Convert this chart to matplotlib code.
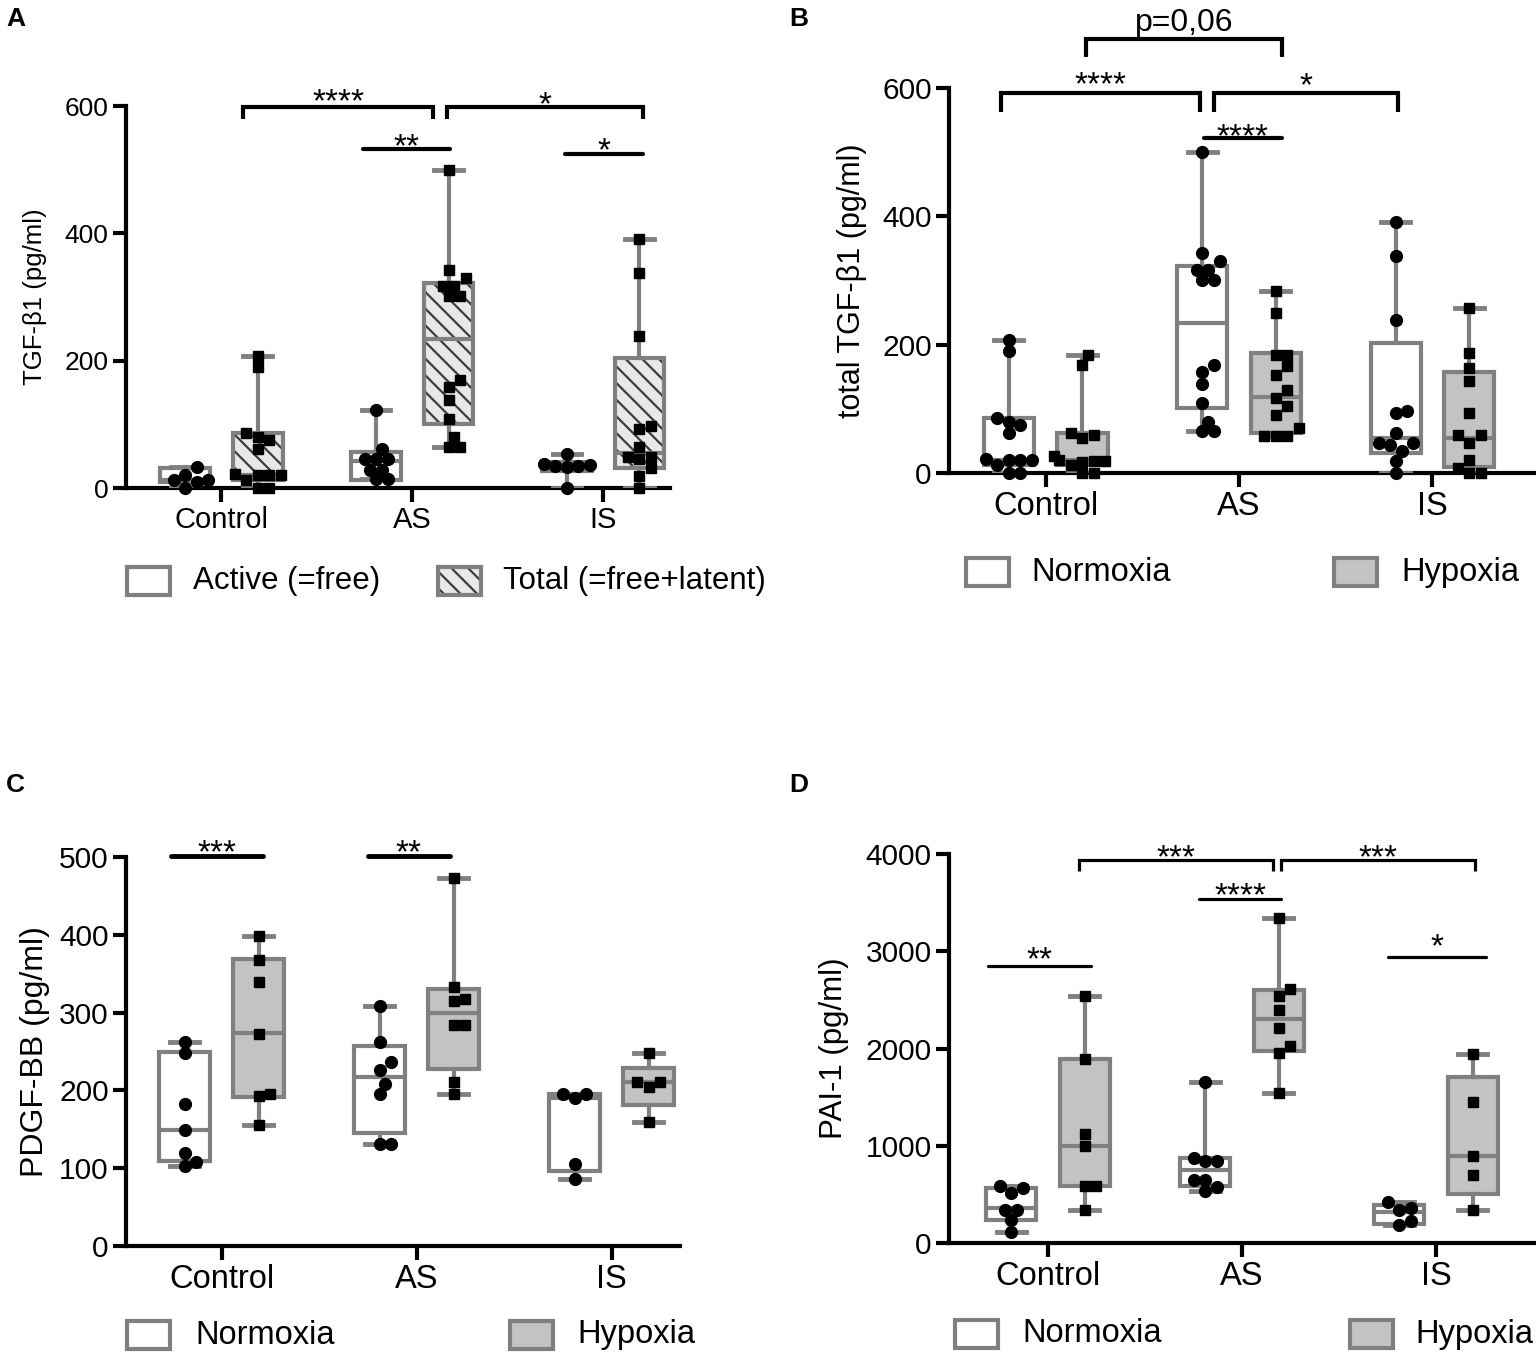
import numpy as np
import matplotlib
matplotlib.use('Agg')
import matplotlib.pyplot as plt
from matplotlib.patches import Rectangle, PathPatch

plt.rcParams['font.family'] = ['Liberation Sans', 'DejaVu Sans']
plt.rcParams['hatch.linewidth'] = 1.6

W, H = 1536, 1356
GRAY = '#808080'
HYP = '#c3c3c3'
HATCHFACE = '#e8e8e8'
HATCHLINE = '#3c3c3c'

categories = ['Control', 'AS', 'IS']

# ---------------- Panel A : TGF-beta1 active vs total ----------------
A_active_pts = [[0, 9, 13, 13, 20, 33],
                [14, 14, 28, 28, 45, 45, 45, 61, 123],
                [0, 33, 34, 35, 36, 38, 54]]
A_active_q1 = [9, 12, 27]
A_active_med = [13, 43, 35]
A_active_q3 = [31, 57, 41]

A_total_pts = [[0, 0, 13, 21, 21, 21, 22, 62, 75, 80, 86, 190, 207],
               [65, 65, 80, 109, 138, 158, 169, 301, 301, 317, 317, 330, 343, 500],
               [0, 19, 32, 46, 49, 49, 64, 93, 98, 239, 337, 391]]
A_total_q1 = [13, 101, 32]
A_total_med = [21, 234, 55]
A_total_q3 = [86, 322, 204]

# ---------------- Panel B : total TGF-beta1 normoxia vs hypoxia ----------------
B_norm_pts = [[0, 0, 13, 21, 21, 21, 22, 62, 75, 80, 86, 190, 207],
              [65, 65, 80, 109, 138, 158, 169, 301, 301, 317, 317, 330, 343, 500],
              [0, 18, 34, 44, 47, 47, 62, 94, 96, 238, 338, 391]]
B_norm_q1 = [13, 101, 31]
B_norm_med = [21, 234, 55]
B_norm_q3 = [86, 322, 203]

B_hyp_pts = [[0, 0, 13, 17, 18, 18, 20, 26, 55, 60, 62, 169, 184],
             [57, 57, 57, 70, 91, 104, 117, 130, 153, 166, 184, 184, 249, 283],
             [0, 0, 8, 21, 47, 60, 60, 94, 143, 164, 187, 257]]
B_hyp_q1 = [13, 62, 10]
B_hyp_med = [20, 119, 55]
B_hyp_q3 = [62, 187, 158]

# ---------------- Panel C : PDGF-BB ----------------
C_norm_pts = [[103, 108, 119, 149, 182, 248, 262],
              [131, 131, 195, 208, 226, 237, 262, 309],
              [86, 106, 190, 195, 195]]
C_norm_q1 = [109, 145, 97]
C_norm_med = [149, 217, 190]
C_norm_q3 = [250, 257, 196]

C_hyp_pts = [[155, 193, 196, 273, 339, 368, 398],
             [195, 211, 284, 284, 315, 318, 333, 473],
             [160, 205, 211, 211, 248]]
C_hyp_q1 = [192, 228, 181]
C_hyp_med = [274, 299, 211]
C_hyp_q3 = [369, 330, 229]

# ---------------- Panel D : PAI-1 ----------------
D_norm_pts = [[109, 239, 342, 342, 513, 564, 581],
              [530, 574, 650, 650, 848, 848, 872, 1658],
              [188, 222, 342, 359, 420]]
D_norm_q1 = [232, 588, 200]
D_norm_med = [359, 752, 315]
D_norm_q3 = [564, 879, 393]

D_hyp_pts = [[335, 588, 588, 998, 1121, 1887, 2537],
             [1539, 1956, 2024, 2215, 2400, 2540, 2616, 3344],
             [335, 701, 896, 1453, 1942]]
D_hyp_q1 = [588, 1976, 506]
D_hyp_med = [998, 2308, 896]
D_hyp_q3 = [1887, 2598, 1710]

# significance annotations: (x1, x2, line_y, drop, label_center_y, label)
A_sig = [(0.115, 1.11, 598, 18, 622, '****'), (1.18, 2.21, 598, 18, 617, '*'),
         (0.74, 1.20, 532, 0, 551, '**'), (1.80, 2.21, 525, 0, 545, '*')]
B_sig = [(-0.23, 0.80, 592, 29, 620, '****'), (0.87, 1.82, 592, 29, 619, '*'),
         (0.82, 1.22, 522, 0, 539, '****')]
B_p = (0.21, 1.22, 676, 28, 689, 'p=0,06')
C_sig = [(-0.26, 0.21, 501, 0, 518, '***'), (0.75, 1.17, 501, 0, 518, '**')]
D_sig = [(-0.31, 0.22, 2848, 0, 3013, '**'), (0.16, 1.16, 3938, 113, 4062, '***'),
         (1.20, 2.20, 3938, 113, 4062, '***'), (0.78, 1.20, 3537, 0, 3671, '****'),
         (1.75, 2.26, 2941, 0, 3146, '*')]

fig = plt.figure(figsize=(W / 100, H / 100), dpi=100)


def add_ax(l, t, r, b):
    return fig.add_axes([l / W, 1 - b / H, (r - l) / W, (b - t) / H])


def style(ax, xlim, ylim, yticks, tfs, cfs):
    ax.set_xlim(*xlim)
    ax.set_ylim(*ylim)
    ax.set_yticks(yticks)
    ax.set_xticks([0, 1, 2], categories)
    for s in ('top', 'right'):
        ax.spines[s].set_visible(False)
    for s in ('left', 'bottom'):
        ax.spines[s].set_linewidth(3)
    ax.tick_params(axis='y', length=9.5, width=3, labelsize=tfs, pad=3, direction='out')
    ax.tick_params(axis='x', length=10, width=3, labelsize=cfs, pad=3, direction='out')


def swarm_x(ax, center, vals, diam):
    pos = ax.get_position()
    x0, x1 = ax.get_xlim()
    y0, y1 = ax.get_ylim()
    ppx = pos.width * W / (x1 - x0)
    ppy = pos.height * H / (y1 - y0)
    vals = np.asarray(vals, float)
    order = np.argsort(vals, kind='stable')
    placed = []
    xs = np.zeros(len(vals))
    for i in order:
        yp = vals[i] * ppy
        xp = 0.0
        for k in [0, 1, -1, 2, -2, 3, -3, 4, -4, 5, -5]:
            xp = k * diam * 0.5
            if all(np.hypot(xp - a, yp - b) >= diam * 0.92 for a, b in placed):
                break
        placed.append((xp, yp))
        xs[i] = center + xp / ppx
    return xs


def group(ax, pos, pts, q1, med, q3, face, marker, ms, hatch=None):
    stats = [dict(med=med, q1=q1, q3=q3, whislo=min(pts), whishi=max(pts), fliers=[])]
    if hatch:
        bprops = dict(facecolor=face, edgecolor=HATCHLINE, linewidth=0, hatch=hatch)
    else:
        bprops = dict(facecolor=face, edgecolor=GRAY, linewidth=3)
    res = ax.bxp(stats, positions=[pos], widths=0.26, capwidths=0.15, patch_artist=True,
                 showfliers=False, manage_ticks=False, boxprops=bprops,
                 whiskerprops=dict(color=GRAY, linewidth=3),
                 capprops=dict(color=GRAY, linewidth=3.5),
                 medianprops=dict(color=GRAY, linewidth=3), zorder=3)
    if hatch:
        box = res['boxes'][0]
        ax.add_patch(PathPatch(box.get_path(), facecolor='none', edgecolor=GRAY,
                               lw=3, zorder=3.2))
        for m in res['medians']:
            m.set_zorder(3.3)
    xs = swarm_x(ax, pos, pts, 11.5)
    ax.plot(xs, pts, linestyle='none', marker=marker, color='black', ms=ms,
            clip_on=False, zorder=5)


def panel(ax, left_set, right_set, left_style, right_style):
    for i in range(3):
        p, a, m, b = left_set[0][i], left_set[1][i], left_set[2][i], left_set[3][i]
        group(ax, i - 0.19, p, a, m, b, *left_style)
        p, a, m, b = right_set[0][i], right_set[1][i], right_set[2][i], right_set[3][i]
        group(ax, i + 0.19, p, a, m, b, *right_style)


def sig(ax, items, lw, fs):
    for x1, x2, y, drop, ly, lab in items:
        if drop:
            ax.plot([x1, x1, x2, x2], [y - drop, y, y, y - drop], color='black', lw=lw,
                    clip_on=False, solid_joinstyle='miter', solid_capstyle='butt', zorder=6)
        else:
            ax.plot([x1, x2], [y, y], color='black', lw=lw, clip_on=False,
                    solid_capstyle='round', zorder=6)
        ax.annotate(lab, xy=((x1 + x2) / 2, ly), xytext=(0, -0.575 * fs),
                    textcoords='offset points', ha='center', va='baseline',
                    fontsize=fs, annotation_clip=False)


def legend_item(x, yc, label, face, hatch, tx, fs):
    if hatch:
        fig.add_artist(Rectangle((x / W, 1 - (yc + 14) / H), 43 / W, 28 / H,
                                 transform=fig.transFigure, facecolor=face,
                                 edgecolor=HATCHLINE, lw=0, hatch=hatch))
        fig.add_artist(Rectangle((x / W, 1 - (yc + 14) / H), 43 / W, 28 / H,
                                 transform=fig.transFigure, facecolor='none',
                                 edgecolor=GRAY, lw=3))
    else:
        fig.add_artist(Rectangle((x / W, 1 - (yc + 14) / H), 43 / W, 28 / H,
                                 transform=fig.transFigure, facecolor=face,
                                 edgecolor=GRAY, lw=3))
    fig.text(tx / W, 1 - yc / H, label, va='center', ha='left', fontsize=fs)


# ---------- A ----------
axA = add_ax(126, 106, 670, 488)
style(axA, (-0.5, 2.35), (0, 600), [0, 200, 400, 600], 19, 21)
panel(axA, (A_active_pts, A_active_q1, A_active_med, A_active_q3),
      (A_total_pts, A_total_q1, A_total_med, A_total_q3),
      ('white', 'o', 8.5), (HATCHFACE, 's', 7.5, '\\\\'))
sig(axA, A_sig, 3, 24)
axA.set_ylabel('TGF-β1 (pg/ml)', fontsize=18.5, va='center')
axA.yaxis.set_label_coords(-0.167, 0.5)

# ---------- B ----------
axB = add_ax(949, 88, 1535, 473)
style(axB, (-0.5, 2.53), (0, 600), [0, 200, 400, 600], 21.5, 23.5)
panel(axB, (B_norm_pts, B_norm_q1, B_norm_med, B_norm_q3),
      (B_hyp_pts, B_hyp_q1, B_hyp_med, B_hyp_q3),
      ('white', 'o', 8.5), (HYP, 's', 7.5))
sig(axB, B_sig, 3, 24)
x1, x2, y, drop, ly, lab = B_p
axB.plot([x1, x1, x2, x2], [y - drop, y, y, y - drop], color='black', lw=3,
         clip_on=False, solid_joinstyle='miter', solid_capstyle='butt')
axB.text((x1 + x2) / 2, ly, lab, ha='center', va='baseline', fontsize=23, clip_on=False)
axB.set_ylabel('total TGF-β1 (pg/ml)', fontsize=22, va='center')
axB.yaxis.set_label_coords(-0.165, 0.5)

# ---------- C ----------
axC = add_ax(126, 857, 680, 1246)
style(axC, (-0.49, 2.35), (0, 500), [0, 100, 200, 300, 400, 500], 21.5, 23.5)
panel(axC, (C_norm_pts, C_norm_q1, C_norm_med, C_norm_q3),
      (C_hyp_pts, C_hyp_q1, C_hyp_med, C_hyp_q3),
      ('white', 'o', 8.5), (HYP, 's', 7.5))
sig(axC, C_sig, 3.5, 24)
axC.set_ylabel('PDGF-BB (pg/ml)', fontsize=23, va='center')
axC.yaxis.set_label_coords(-0.164, 0.5)

# ---------- D ----------
axD = add_ax(949, 854, 1535, 1243)
style(axD, (-0.51, 2.51), (0, 4000), [0, 1000, 2000, 3000, 4000], 21.5, 23.5)
panel(axD, (D_norm_pts, D_norm_q1, D_norm_med, D_norm_q3),
      (D_hyp_pts, D_hyp_q1, D_hyp_med, D_hyp_q3),
      ('white', 'o', 8.5), (HYP, 's', 7.5))
sig(axD, D_sig, 2.3, 24)
axD.set_ylabel('PAI-1 (pg/ml)', fontsize=22.5, va='center')
axD.yaxis.set_label_coords(-0.196, 0.5)

# ---------- legends ----------
legend_item(127, 581, 'Active (=free)', 'white', None, 193, 22.5)
legend_item(438, 581, 'Total (=free+latent)', HATCHFACE, '\\\\', 503, 22.5)
legend_item(966, 572, 'Normoxia', 'white', None, 1031, 23.5)
legend_item(1334, 572, 'Hypoxia', HYP, None, 1401, 23.5)
legend_item(127, 1335, 'Normoxia', 'white', None, 195, 23.5)
legend_item(510, 1335, 'Hypoxia', HYP, None, 577, 23.5)
legend_item(955, 1334, 'Normoxia', 'white', None, 1022, 23.5)
legend_item(1350, 1334, 'Hypoxia', HYP, None, 1415, 23.5)

# ---------- panel letters ----------
for lab, x, y in [('A', 6, 7), ('B', 789, 7), ('C', 6, 773), ('D', 789, 773)]:
    fig.text(x / W, 1 - y / H, lab, fontsize=19, fontweight='bold', va='top', ha='left')

fig.savefig('out.png', dpi=100)
